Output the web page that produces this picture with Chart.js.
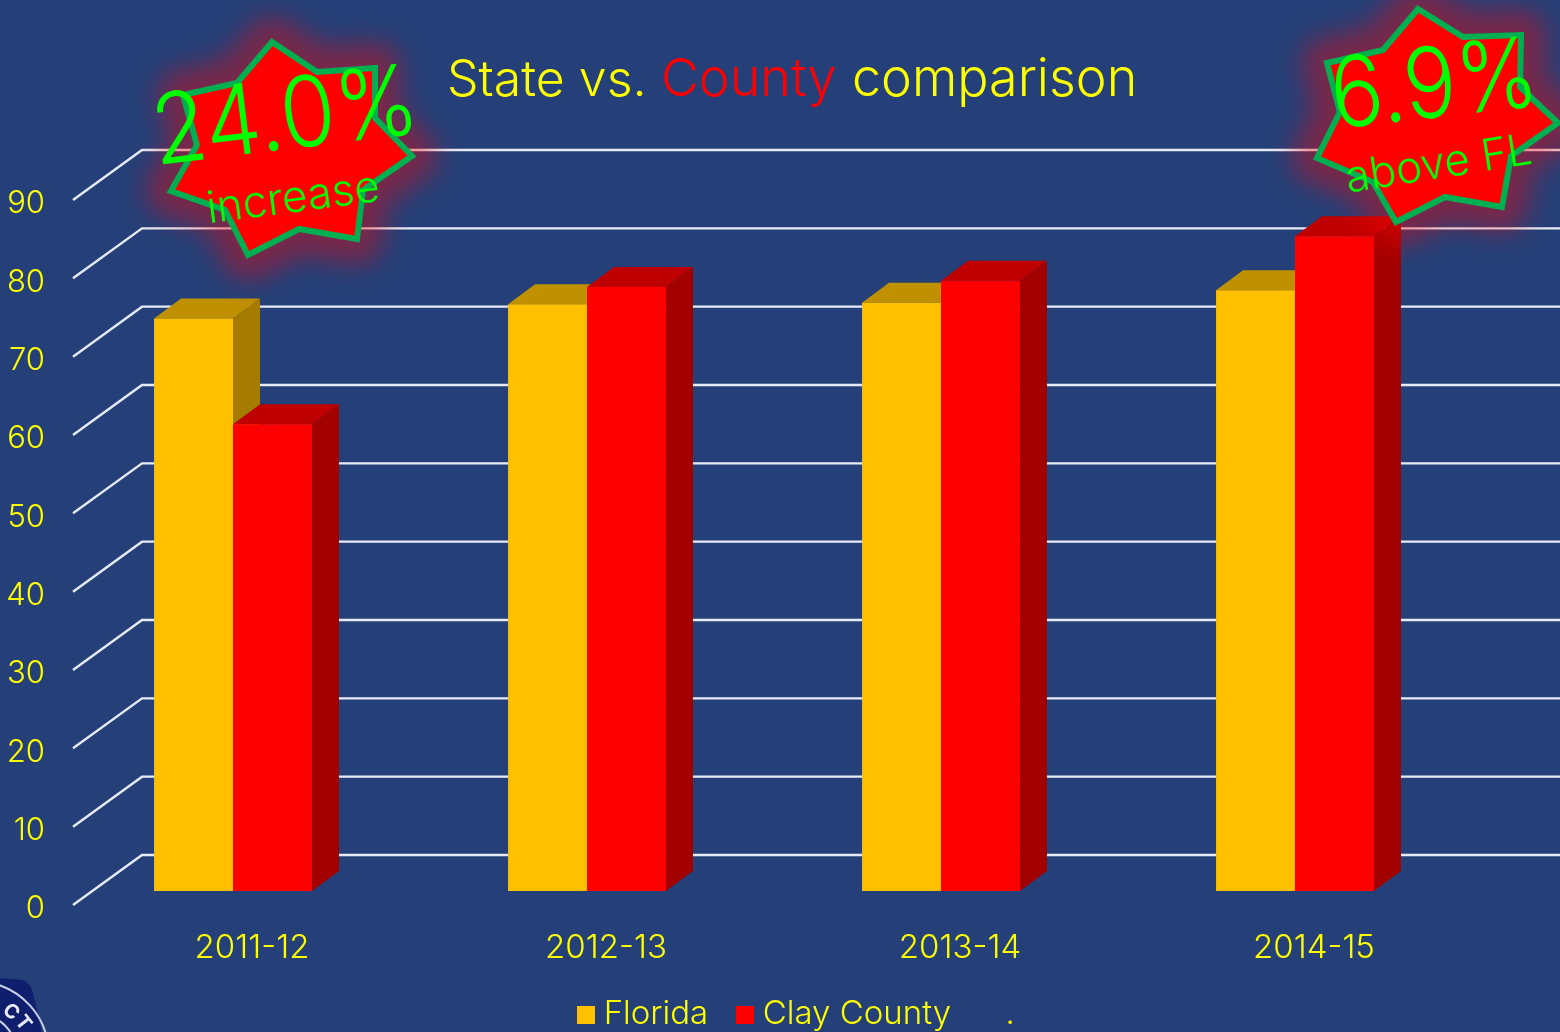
<!DOCTYPE html>
<html><head><meta charset="utf-8">
<style>html,body{margin:0;padding:0;background:#254078;overflow:hidden}canvas{display:block}</style>
<script src="https://cdn.jsdelivr.net/npm/chart.js@4/dist/chart.umd.min.js"></script>
</head><body><div style="width:1560px;height:1032px;position:relative"><canvas id="c"></canvas></div>
<script>
const categories = ['2011-12','2012-13','2013-14','2014-15'];
const florida = [73.1,74.9,75.1,76.7];
const clay = [59.6,77.1,77.9,83.6];
const filler = [null,null,null,null];
const yTicks = [0,10,20,30,40,50,60,70,80,90];

const FONT='Inter';
const YEL='#ffff00';
const stars=[
 {pts:[[272,42],[317,72],[375,68],[375,118],[412,156],[363,190],[357,239],[299,229],[248,255],[225,210],[171,191],[197,145],[183,95],[237,83]],
  big:'24.0%',bigAt:[289,149],bigSize:98,bigRot:-7,bigSx:0.91,small:'increase',smallAt:[295,212],smallSize:44,smallRot:-7.5},
 {pts:[[1418,9],[1463,37],[1521,35],[1520,87],[1558,123],[1511,156],[1502,207],[1445,197],[1396,222],[1373,182],[1317,158],[1340,112],[1327,63],[1383,50]],
  big:'6.9%',bigAt:[1438,117],bigSize:98,bigRot:-6.5,bigSx:0.89,small:'above FL',smallAt:[1441,178],smallSize:44,smallRot:-9}
];
function swatch(col){const s=document.createElement('canvas');s.width=18;s.height=18;const g=s.getContext('2d');g.fillStyle=col;g.fillRect(0,0,18,18);return s;}
const DX=27,DY=-20;
function trace(ctx,p){ctx.beginPath();p.forEach((q,i)=>i?ctx.lineTo(q[0],q[1]):ctx.moveTo(q[0],q[1]));ctx.closePath();}
function poly(ctx,p,fill){trace(ctx,p);ctx.fillStyle=fill;ctx.fill();}
function rotText(ctx,txt,at,deg,font,sx){ctx.save();ctx.translate(at[0],at[1]);ctx.rotate(deg*Math.PI/180);ctx.scale(sx||1,1);ctx.font=font;ctx.fillText(txt,0,0);ctx.restore();}

const deco={
 id:'deco',
 afterLayout(chart){chart.legend.left+=64;chart.legend.right+=64;},
 beforeDatasetsDraw(chart){
  const ctx=chart.ctx,y=chart.scales.y;
  ctx.save();ctx.strokeStyle='#e6eaf5';ctx.lineWidth=2.4;ctx.lineJoin='miter';
  yTicks.forEach(v=>{const py=y.getPixelForValue(v);
    ctx.beginPath();ctx.moveTo(73,py+14);ctx.lineTo(142,py-36);ctx.lineTo(1560,py-36);ctx.stroke();});
  const cols=[['#bf9000','#a67c00'],['#bf0000','#a30000']];
  [0,1].forEach(di=>{
    chart.getDatasetMeta(di).data.forEach(b=>{
      const l=b.x-b.width/2,r=b.x+b.width/2,t=b.y,base=b.base;
      poly(ctx,[[l,t],[l+DX,t+DY],[r+DX,t+DY],[r,t]],cols[di][0]);
      poly(ctx,[[r,t],[r+DX,t+DY],[r+DX,base+DY],[r,base]],cols[di][1]);
    });
  });
  ctx.restore();
 },
 afterDraw(chart){
  const ctx=chart.ctx;
  ctx.save();
  ctx.textBaseline='alphabetic';ctx.textAlign='left';
  [['State vs.',447,YEL,50],['County',661,'#ff0000',52],['comparison',852,YEL,52]].forEach(s=>{ctx.font='300 '+s[3]+'px '+FONT;ctx.fillStyle=s[2];ctx.fillText(s[0],s[1],96);});
  // seal corner
  ctx.beginPath();ctx.moveTo(0,978);ctx.lineTo(23,980);ctx.quadraticCurveTo(31,984,33,993);ctx.lineTo(42,1032);ctx.lineTo(0,1032);ctx.closePath();ctx.fillStyle='#0f1f6e';ctx.fill();
  ctx.strokeStyle='#c9cfe6';ctx.lineWidth=2;
  ctx.beginPath();ctx.arc(-25,1055,74,-1.25,-0.2);ctx.stroke();
  ctx.beginPath();ctx.arc(-25,1055,42,-1.1,-0.3);ctx.stroke();
  ctx.fillStyle='#e8ebf6';ctx.textAlign='center';ctx.textBaseline='middle';
  rotText(ctx,'C',[11,1012],42,'bold 20px '+FONT);
  rotText(ctx,'T',[23,1023],52,'bold 20px '+FONT);
  // starbursts
  stars.forEach(s=>{
    ctx.save();ctx.filter='blur(13px)';ctx.strokeStyle='rgba(255,0,0,0.39)';ctx.lineWidth=50;ctx.lineJoin='round';
    trace(ctx,s.pts);ctx.stroke();ctx.restore();
    poly(ctx,s.pts,'#ff0000');
    ctx.strokeStyle='#00b050';ctx.lineWidth=6;ctx.lineJoin='miter';
    trace(ctx,s.pts);ctx.stroke();
    ctx.fillStyle='#00ff00';ctx.textAlign='center';ctx.textBaseline='alphabetic';
    rotText(ctx,s.big,s.bigAt,s.bigRot,'300 '+s.bigSize+'px '+FONT,s.bigSx);
    rotText(ctx,s.small,s.smallAt,s.smallRot,'300 '+s.smallSize+'px '+FONT);
  });
  ctx.restore();
 }
};

const swatches=[swatch('#ffc000'),swatch('#ff0000'),swatch('rgba(0,0,0,0)')];
new Chart(document.getElementById('c'),{
 type:'bar',
 data:{labels:categories,datasets:[
  {label:'Florida',data:florida,backgroundColor:'#ffc000'},
  {label:'Clay County',data:clay,backgroundColor:'#ff0000'},
  {label:'.',data:filler,backgroundColor:'rgba(0,0,0,0)',hidden:true}
 ]},
 plugins:[deco],
 options:{
  responsive:true,maintainAspectRatio:false,animation:false,
  layout:{padding:{top:186,right:88,left:0,bottom:-9}},
  datasets:{bar:{categoryPercentage:0.446,barPercentage:1}},
  scales:{
   x:{grid:{display:false,drawTicks:false},border:{display:false},
      ticks:{color:YEL,font:{family:FONT,size:33,weight:'300'},labelOffset:19,padding:37,maxRotation:0,autoSkip:false},
      afterFit(s){s.height=71;}},
   y:{min:0,max:90,grid:{display:false,drawTicks:false},border:{display:false},
      ticks:{stepSize:10,color:YEL,font:{family:FONT,size:31,weight:'300'},labelOffset:18,padding:11},
      afterFit(s){s.width=56;}}
  },
  plugins:{
   tooltip:{enabled:false},
   title:{display:false},
   legend:{display:true,position:'bottom',
    labels:{color:YEL,font:{family:FONT,size:33,weight:'300'},padding:36,boxWidth:2,usePointStyle:true,
     generateLabels(chart){return chart.data.datasets.map((d,i)=>({text:d.label,fontColor:YEL,pointStyle:swatches[i],datasetIndex:i,hidden:false,lineWidth:0}));}}
   }
  }
 }
});
</script></body></html>
